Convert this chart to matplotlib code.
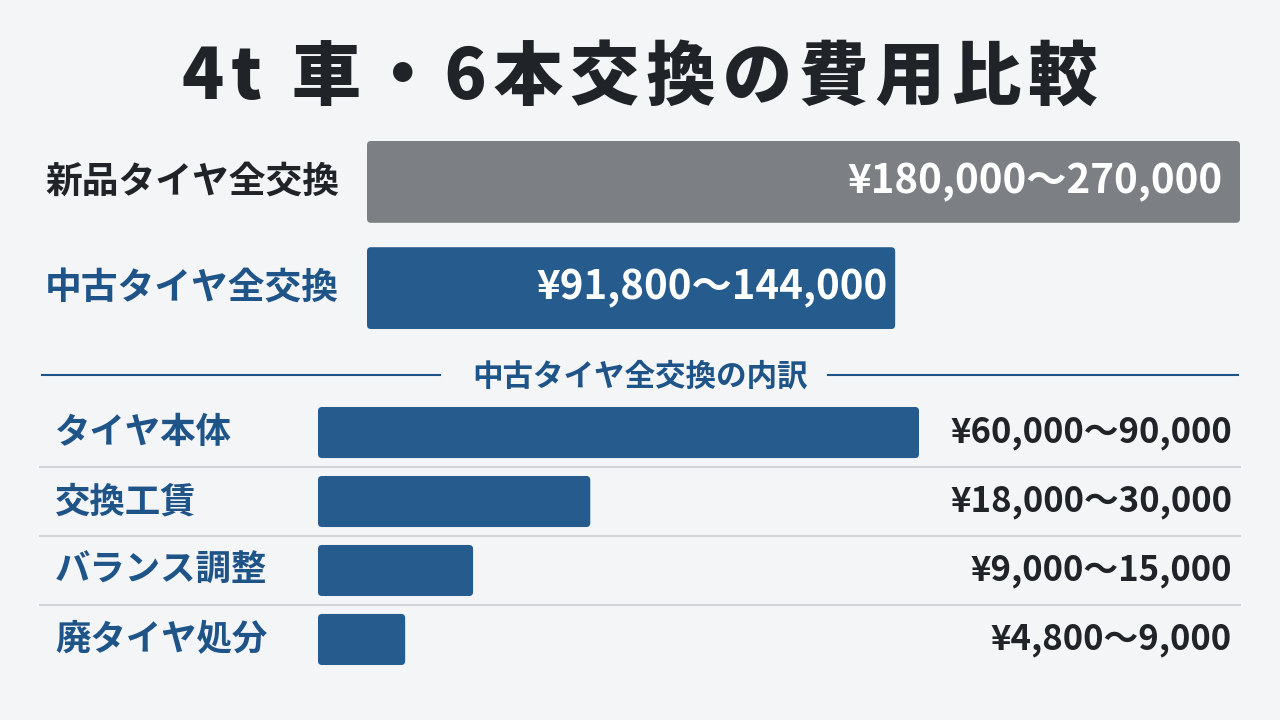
import matplotlib
matplotlib.use("Agg")
import matplotlib.pyplot as plt
import matplotlib.transforms as mtransforms
from matplotlib.patches import FancyBboxPatch
from matplotlib.lines import Line2D

plt.rcParams['font.family'] = ['Noto Sans CJK JP', 'DejaVu Sans']

# ---------------- data ----------------
title = "4t 車・6本交換の費用比較"
compare_labels = ["新品タイヤ全交換", "中古タイヤ全交換"]
compare_ranges = ["¥180,000～270,000", "¥91,800～144,000"]
compare_bar_len = [100, 60.5]          # relative bar lengths as drawn
section_title = "中古タイヤ全交換の内訳"
item_labels = ["タイヤ本体", "交換工賃", "バランス調整", "廃タイヤ処分"]
item_ranges = ["¥60,000～90,000", "¥18,000～30,000", "¥9,000～15,000", "¥4,800～9,000"]
item_bar_len = [100, 45.3, 25.8, 14.5]  # relative bar lengths as drawn

# ---------------- style ----------------
BG = "#f3f5f7"
DARK = "#202428"
BLUE = "#255b8d"
BLUE_TXT = "#1f5489"
GRAY = "#7c8084"
SEP = "#d2d5d8"
W, H = 1280, 720


def fx(px):
    return px / W


def fy(py):
    return 1 - py / H


def spaced(s, sep="\u200a"):
    return sep.join(s)


fig = plt.figure(figsize=(12.8, 7.2), dpi=100)
fig.patch.set_facecolor(BG)

fig.text(0.5, fy(78), spaced(title), ha="center", va="center",
         fontsize=50, fontweight="heavy", color=DARK)


def make_axes(left_px, right_px, top_px, bottom_px, n, bar_h, xmax):
    ax = fig.add_axes([fx(left_px), fy(bottom_px), fx(right_px - left_px),
                       (bottom_px - top_px) / H])
    ax.set_xlim(0, xmax)
    ax.set_ylim(n - 1 + bar_h / 2, -bar_h / 2)
    ax.axis("off")
    ax.patch.set_alpha(0)
    return ax


def round_bars(ax, lengths, bar_h, colors, r_px=4):
    pos = ax.get_position()
    wpx = pos.width * W
    hpx = pos.height * H
    x0, x1 = ax.get_xlim()
    y0, y1 = ax.get_ylim()
    xupp = abs(x1 - x0) / wpx
    yupp = abs(y1 - y0) / hpx
    for i, (L, c) in enumerate(zip(lengths, colors)):
        p = FancyBboxPatch((0, i - bar_h / 2), L, bar_h,
                           boxstyle=f"round,pad=0,rounding_size={r_px * xupp}",
                           mutation_aspect=yupp / xupp,
                           facecolor=c, edgecolor="none")
        ax.add_patch(p)


# ---- top comparison ----
top_h = 0.77
ax1 = make_axes(367, 1240, 141, 329, 2, top_h, 100)
round_bars(ax1, compare_bar_len, top_h, [GRAY, BLUE])
tr1 = mtransforms.blended_transform_factory(fig.transFigure, ax1.transData)
label_colors = [DARK, BLUE_TXT]
pads = [18, 8]
for i, (lab, rng, L) in enumerate(zip(compare_labels, compare_ranges, compare_bar_len)):
    ax1.text(fx(45), i, lab, transform=tr1, ha="left", va="center",
             fontsize=26.5, fontweight="bold", color=label_colors[i])
    ax1.annotate(rng, xy=(L, i), xytext=(-pads[i] * 0.72, 0),
                 textcoords="offset points", ha="right", va="center",
                 fontsize=29, fontweight="bold", color="white")

# ---- section heading ----
fig.text(0.5, fy(377), section_title, ha="center", va="center",
         fontsize=22, fontweight="bold", color=BLUE_TXT)
fig.add_artist(Line2D([fx(42), fx(440)], [fy(375)] * 2, color=BLUE_TXT, lw=1.5))
fig.add_artist(Line2D([fx(828), fx(1238)], [fy(375)] * 2, color=BLUE_TXT, lw=1.5))

# ---- breakdown ----
bot_h = 0.74
ax2 = make_axes(318, 1240, 407, 665, 4, bot_h, 100 * 922 / 601)
round_bars(ax2, item_bar_len, bot_h, [BLUE] * 4)
tr2 = mtransforms.blended_transform_factory(fig.transFigure, ax2.transData)
for i, (lab, rng) in enumerate(zip(item_labels, item_ranges)):
    ax2.text(fx(55), i, lab, transform=tr2, ha="left", va="center",
             fontsize=25.5, fontweight="bold", color=BLUE_TXT)
    ax2.text(fx(1232), i, rng, transform=tr2, ha="right", va="center",
             fontsize=25, fontweight="bold", color=DARK)
for k in range(len(item_labels) - 1):
    fig.add_artist(Line2D([fx(40), fx(1240)], [k + 0.5] * 2, transform=tr2,
                          color=SEP, lw=1.5))

fig.savefig("out.png", dpi=100, facecolor=BG)
